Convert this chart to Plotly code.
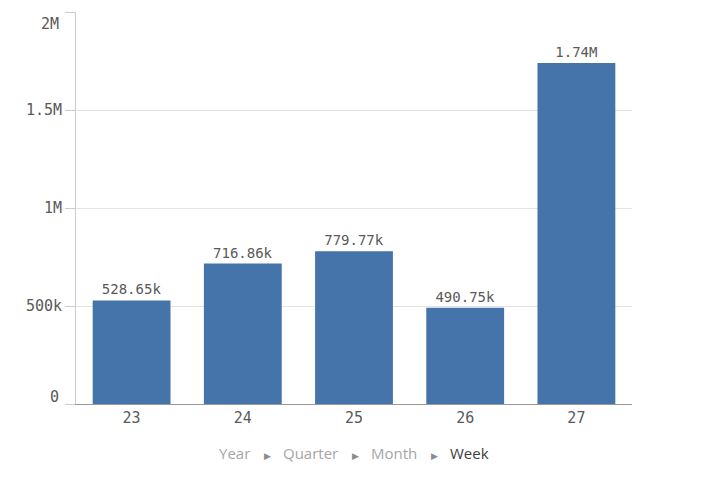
import plotly.graph_objects as go

weeks = ["23", "24", "25", "26", "27"]
values = [528650, 716860, 779770, 490750, 1740000]
labels = ["528.65k", "716.86k", "779.77k", "490.75k", "1.74M"]
y_ticks = [0, 500000, 1000000, 1500000, 2000000]
y_ticklabels = ["0", "500k", "1M", "1.5M", "2M"]

mono = "DejaVu Sans Mono"
tick_font = dict(family=mono, size=15, color="#595959")

fig = go.Figure(go.Bar(
    x=weeks, y=values, text=labels, textposition="outside",
    textfont=dict(family=mono, size=14, color="#595959"),
    marker=dict(color="#4474aa", line=dict(width=0)),
    cliponaxis=False,
))

# Qlik nudges the first/last y labels inward; draw those as annotations
edge_shift = {0: 7, len(y_ticks) - 1: -12}
axis_text = [("" if i in edge_shift else t) for i, t in enumerate(y_ticklabels)]

sep = "<span style='color:#8c8c8c;font-size:9px'>&nbsp;&nbsp;&nbsp;&nbsp;&nbsp;&nbsp;\u25B6&nbsp;&nbsp;&nbsp;&nbsp;&nbsp;</span>"

annotations = [dict(
    x=0.5, y=-0.125, xref="paper", yref="paper", showarrow=False,
    xanchor="center", yanchor="middle",
    text=("<span style='color:#a6a6a6'>Year</span>" + sep +
          "<span style='color:#a6a6a6'>Quarter</span>" + sep +
          "<span style='color:#a6a6a6'>Month</span>" + sep +
          "<span style='color:#404040'>Week</span>"),
    font=dict(family="Open Sans", size=15),
)]
for i, shift in edge_shift.items():
    annotations.append(dict(
        x=0, xref="paper", y=y_ticks[i], yref="y", showarrow=False,
        xanchor="right", yanchor="middle", xshift=-15, yshift=shift,
        text=y_ticklabels[i], font=tick_font,
    ))

fig.update_layout(
    width=704, height=477,
    margin=dict(l=68, r=80, t=4, b=81, autoexpand=False),
    paper_bgcolor="white", plot_bgcolor="white",
    bargap=0.3,
    showlegend=False,
    xaxis=dict(
        type="category", showgrid=False, showline=True, linecolor="#999999", linewidth=1,
        ticks="", tickfont=tick_font, automargin=False,
    ),
    yaxis=dict(
        range=[0, 2000000], tickvals=y_ticks, ticktext=axis_text,
        showgrid=True, gridcolor="#e3e3e3", gridwidth=1,
        showline=True, linecolor="#cccccc", linewidth=1,
        ticks="outside", ticklen=10, tickcolor="#cccccc",
        tickfont=tick_font,
        zeroline=False, automargin=False,
    ),
    annotations=annotations,
)

fig.write_html("out.html")
